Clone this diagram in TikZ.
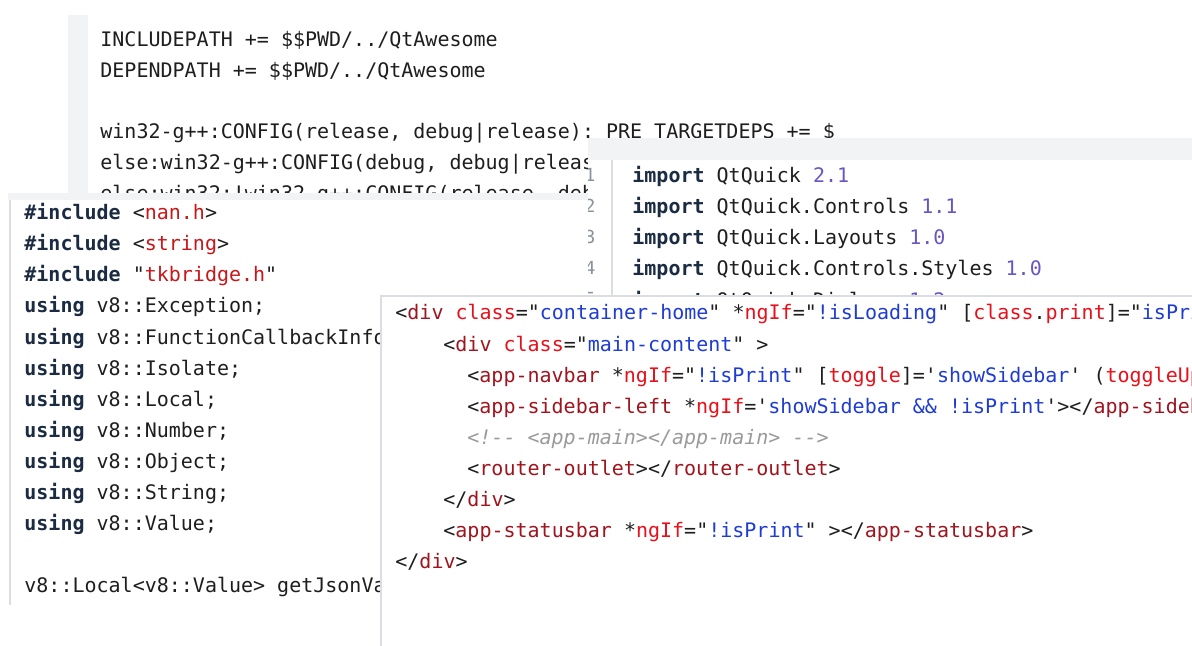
\documentclass[tikz,border=0pt]{standalone}
\usepackage{fontspec}
\setmonofont{DejaVu Sans Mono}
\definecolor{kw}{HTML}{1B2B42}
\definecolor{str}{HTML}{C8171A}
\definecolor{num}{HTML}{6A55C4}
\definecolor{tag}{HTML}{A0141E}
\definecolor{attr}{HTML}{E8101A}
\definecolor{val}{HTML}{1E3CD2}
\definecolor{cmt}{HTML}{9A9A9A}
\definecolor{txt}{HTML}{1E1E1E}
\definecolor{bar}{HTML}{F2F3F5}
\definecolor{edge}{HTML}{DADDE2}
\definecolor{gut}{HTML}{8A939D}
\newcommand\Kw[1]{{\color{kw}\bfseries #1}}
\newcommand\Sr[1]{{\color{str}#1}}
\newcommand\Nm[1]{{\color{num}#1}}
\newcommand\Tg[1]{{\color{tag}#1}}
\newcommand\At[1]{{\color{attr}#1}}
\newcommand\Vl[1]{{\color{val}#1}}
\begin{document}
\begin{tikzpicture}[x=0.5pt,y=-0.5pt,
  code/.style={anchor=base west,inner sep=0pt,font=\ttfamily\fontsize{10}{12}\selectfont,text=txt},
  gnum/.style={anchor=base,inner sep=0pt,font=\ttfamily\fontsize{9}{11}\selectfont,text=gut}]
\useasboundingbox (0,0) rectangle (1192,646);
\fill[white] (0,0) rectangle (1192,646);
% panel 1
\fill[bar] (68,15) rectangle (88,646);
\node[code] (p1a) at (100,47) {INCLUDEPATH += \$\$PWD/../QtAwesome};
\node[code] (p1b) at (100,78) {DEPENDPATH += \$\$PWD/../QtAwesome};
\node[code] (p1c) at (100,139) {win32-g++:CONFIG(release, debug|release): PRE TARGETDEPS += \$};
\node[code] (p1d) at (100,170) {else:win32-g++:CONFIG(debug, debug|release): PRE TARGETDEPS};
\node[code] (p1e) at (100,201) {else:win32:!win32-g++:CONFIG(release, debug|release): PRE};
% panel 2
\fill[white] (8,193) rectangle (588,646);
\fill[bar] (8,193) rectangle (588,200);
\draw[edge,line width=1pt] (10,200) -- (10,605);
\begin{scope}
\clip (8,200) rectangle (588,646);
\node[code] (c1) at (24,220) {\Kw{\#include} <\Sr{nan.h}>};
\node[code] (c2) at (24,251) {\Kw{\#include} <\Sr{string}>};
\node[code] (c3) at (24,282) {\Kw{\#include} "\Sr{tkbridge.h}"};
\node[code] (c4) at (24,313) {\Kw{using} v8::Exception;};
\node[code] (c5) at (24,344) {\Kw{using} v8::FunctionCallbackInfo;};
\node[code] (c6) at (24,375) {\Kw{using} v8::Isolate;};
\node[code] (c7) at (24,406) {\Kw{using} v8::Local;};
\node[code] (c8) at (24,437) {\Kw{using} v8::Number;};
\node[code] (c9) at (24,468) {\Kw{using} v8::Object;};
\node[code] (c10) at (24,499) {\Kw{using} v8::String;};
\node[code] (c11) at (24,530) {\Kw{using} v8::Value;};
\node[code] (c12) at (24,592) {v8::Local<v8::Value> getJsonValue};
\end{scope}
% panel 3
\fill[white] (588,138) rectangle (1192,646);
\fill[bar] (588,138) rectangle (1192,160);
\draw[edge,line width=0.8pt] (612,160) -- (612,646);
\begin{scope}
\clip (588,160) rectangle (611,646);
\node[gnum] (g1) at (590,182) {1};
\node[gnum] (g2) at (590,213) {2};
\node[gnum] (g3) at (590,244) {3};
\node[gnum] (g4) at (590,275) {4};
\node[gnum] (g5) at (590,306) {5};
\end{scope}
\node[code] (q1) at (632,183) {\Kw{import} QtQuick \Nm{2.1}};
\node[code] (q2) at (632,214) {\Kw{import} QtQuick.Controls \Nm{1.1}};
\node[code] (q3) at (632,245) {\Kw{import} QtQuick.Layouts \Nm{1.0}};
\node[code] (q4) at (632,276) {\Kw{import} QtQuick.Controls.Styles \Nm{1.0}};
\node[code] (q5) at (632,307) {\Kw{import} QtQuick.Dialogs \Nm{1.2}};
% panel 4
\fill[white] (380,295) rectangle (1192,646);
\draw[edge,line width=1.2pt] (380,296) -- (1192,296);
\draw[edge,line width=1pt] (381,296) -- (381,646);
\begin{scope}
\clip (382,297) rectangle (1192,646);
\node[code] (h1) at (395,320) {<\Tg{div} \At{class}="\Vl{container-home}" *\At{ngIf}="\Vl{!isLoading}" [\At{class}.\At{print}]="\Vl{isPrint}">};
\node[code] (h2) at (443,351) {<\Tg{div} \At{class}="\Vl{main-content}" >};
\node[code] (h3) at (467,382) {<\Tg{app-navbar} *\At{ngIf}="\Vl{!isPrint}" [\At{toggle}]='\Vl{showSidebar}' (\At{toggleUpdate})};
\node[code] (h4) at (467,413) {<\Tg{app-sidebar-left} *\At{ngIf}='\Vl{showSidebar \&\& !isPrint}'></\Tg{app-sidebar-left}>};
\node[code] (h5) at (467,444) {{\color{cmt}\itshape <!-{}- <app-main></app-main> -{}->}};
\node[code] (h6) at (467,475) {<\Tg{router-outlet}></\Tg{router-outlet}>};
\node[code] (h7) at (443,506) {</\Tg{div}>};
\node[code] (h8) at (443,537) {<\Tg{app-statusbar} *\At{ngIf}="\Vl{!isPrint}" ></\Tg{app-statusbar}>};
\node[code] (h9) at (395,568) {</\Tg{div}>};
\end{scope}
\end{tikzpicture}
\end{document}
